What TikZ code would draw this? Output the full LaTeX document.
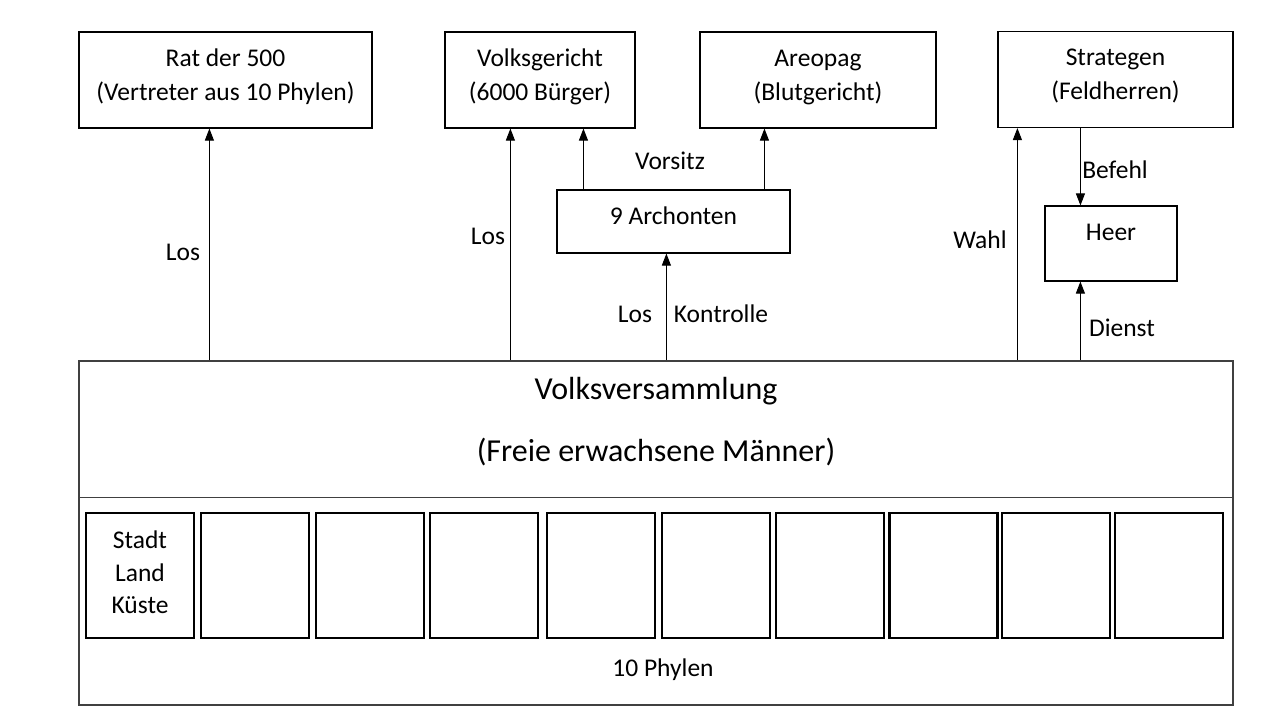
\documentclass[tikz,border=0pt]{standalone}
\usepackage{fontspec}
\setmainfont{Carlito}
\usetikzlibrary{arrows.meta,positioning}
\tikzset{
  orgbox/.style={draw, line width=1.1pt, inner sep=0pt, align=center,
    font=\fontsize{25.5}{34}\selectfont},
  topbox/.style={orgbox, minimum height=96pt, text height=52pt, text depth=12pt},
  phylebox/.style={draw, line width=2.2pt, minimum width=108pt,
    minimum height=125pt, inner sep=0pt},
  arr/.style={-{Triangle[length=12pt,width=9pt]}, line width=1pt},
  lbl/.style={font=\fontsize{25.5}{30}\selectfont, inner sep=0pt},
}
\begin{document}
\begin{tikzpicture}[x=1pt, y=-1pt]
  \useasboundingbox[fill=white] (0,0) rectangle (1280,720);

  % top row
  \node[topbox, minimum width=293pt] (rat) at (225.5,80) {Rat der 500\\(Vertreter aus 10 Phylen)};
  \node[topbox, minimum width=190pt] (ger) at (540,80) {Volksgericht\\(6000 Bürger)};
  \node[topbox, minimum width=236pt] (areo) at (818,80) {Areopag\\(Blutgericht)};
  \node[topbox, minimum width=235pt] (strat) at (1115.5,79.5) {Strategen\\(Feldherren)};

  % middle
  \node[orgbox, minimum width=233pt, minimum height=63pt, text height=18pt, text depth=13pt]
    (arch) at (673.5,221.5) {9 Archonten};
  \node[orgbox, minimum width=132pt, minimum height=75pt, text height=18pt, text depth=25pt]
    (heer) at (1111,243.5) {Heer};

  % Volksversammlung
  \node[draw=black!75, line width=1.2pt, minimum width=1154pt, minimum height=344pt, inner sep=0pt]
    (vv) at (656,533) {};
  \node[lbl, font=\fontsize{32}{36}\selectfont] (vvname) at (656,391) {Volksversammlung};
  \node[lbl, font=\fontsize{32}{36}\selectfont] (vvsub) at (656,452) {(Freie erwachsene Männer)};
  \coordinate (div) at (0,497);
  \draw[line width=1pt, black!75] (vv.west |- div) -- (vv.east |- div);

  % Phylen
  \node[orgbox, minimum width=108pt, minimum height=125pt, text height=82pt, text depth=6pt]
    (stadt) at (140,575.5) {Stadt\\[-1.5pt]Land\\[-1.5pt]Küste};
  \foreach \x [count=\i] in {255,370,484,601,716,830,943.5,1056,1169}
    \node[phylebox] (ph\i) at (\x,575.5) {};
  \node[lbl] (phylen) at (663,670) {10 Phylen};

  % connectors
  \path (vv.north west) ++(131,0) coordinate (vRat)
        (vv.north west) ++(432,0) coordinate (vGer)
        (vv.north west) ++(588,0) coordinate (vArch)
        (vv.north west) ++(939,0) coordinate (vStrat)
        (vv.north west) ++(1002,0) coordinate (vHeer);
  \path (arch.north west) ++(27,0) coordinate (aL)
        (arch.north west) ++(208,0) coordinate (aR)
        (heer.north west) ++(36,0) coordinate (hTop);

  \draw[arr] (vRat) -- (vRat |- rat.south);
  \draw[arr] (vGer) -- (vGer |- ger.south);
  \draw[arr] (vArch) -- (vArch |- arch.south);
  \draw[arr] (vStrat) -- (vStrat |- strat.south);
  \draw[arr] (vHeer) -- (vHeer |- heer.south);
  \draw[arr] (aL) -- (aL |- ger.south);
  \draw[arr] (aR) -- (aR |- areo.south);
  \draw[arr] (hTop |- strat.south) -- (hTop);

  % labels
  \node[lbl] (lRat) at (183,252) {Los};
  \node[lbl] (lGer) at (488,236) {Los};
  \node[lbl] (lVor) at (670,161) {Vorsitz};
  \node[lbl] (lLos) at (635,314) {Los};
  \node[lbl] (lKon) at (721,314) {Kontrolle};
  \node[lbl] (lWahl) at (980,240) {Wahl};
  \node[lbl] (lBef) at (1115,170) {Befehl};
  \node[lbl] (lDie) at (1122,328) {Dienst};
\end{tikzpicture}
\end{document}
